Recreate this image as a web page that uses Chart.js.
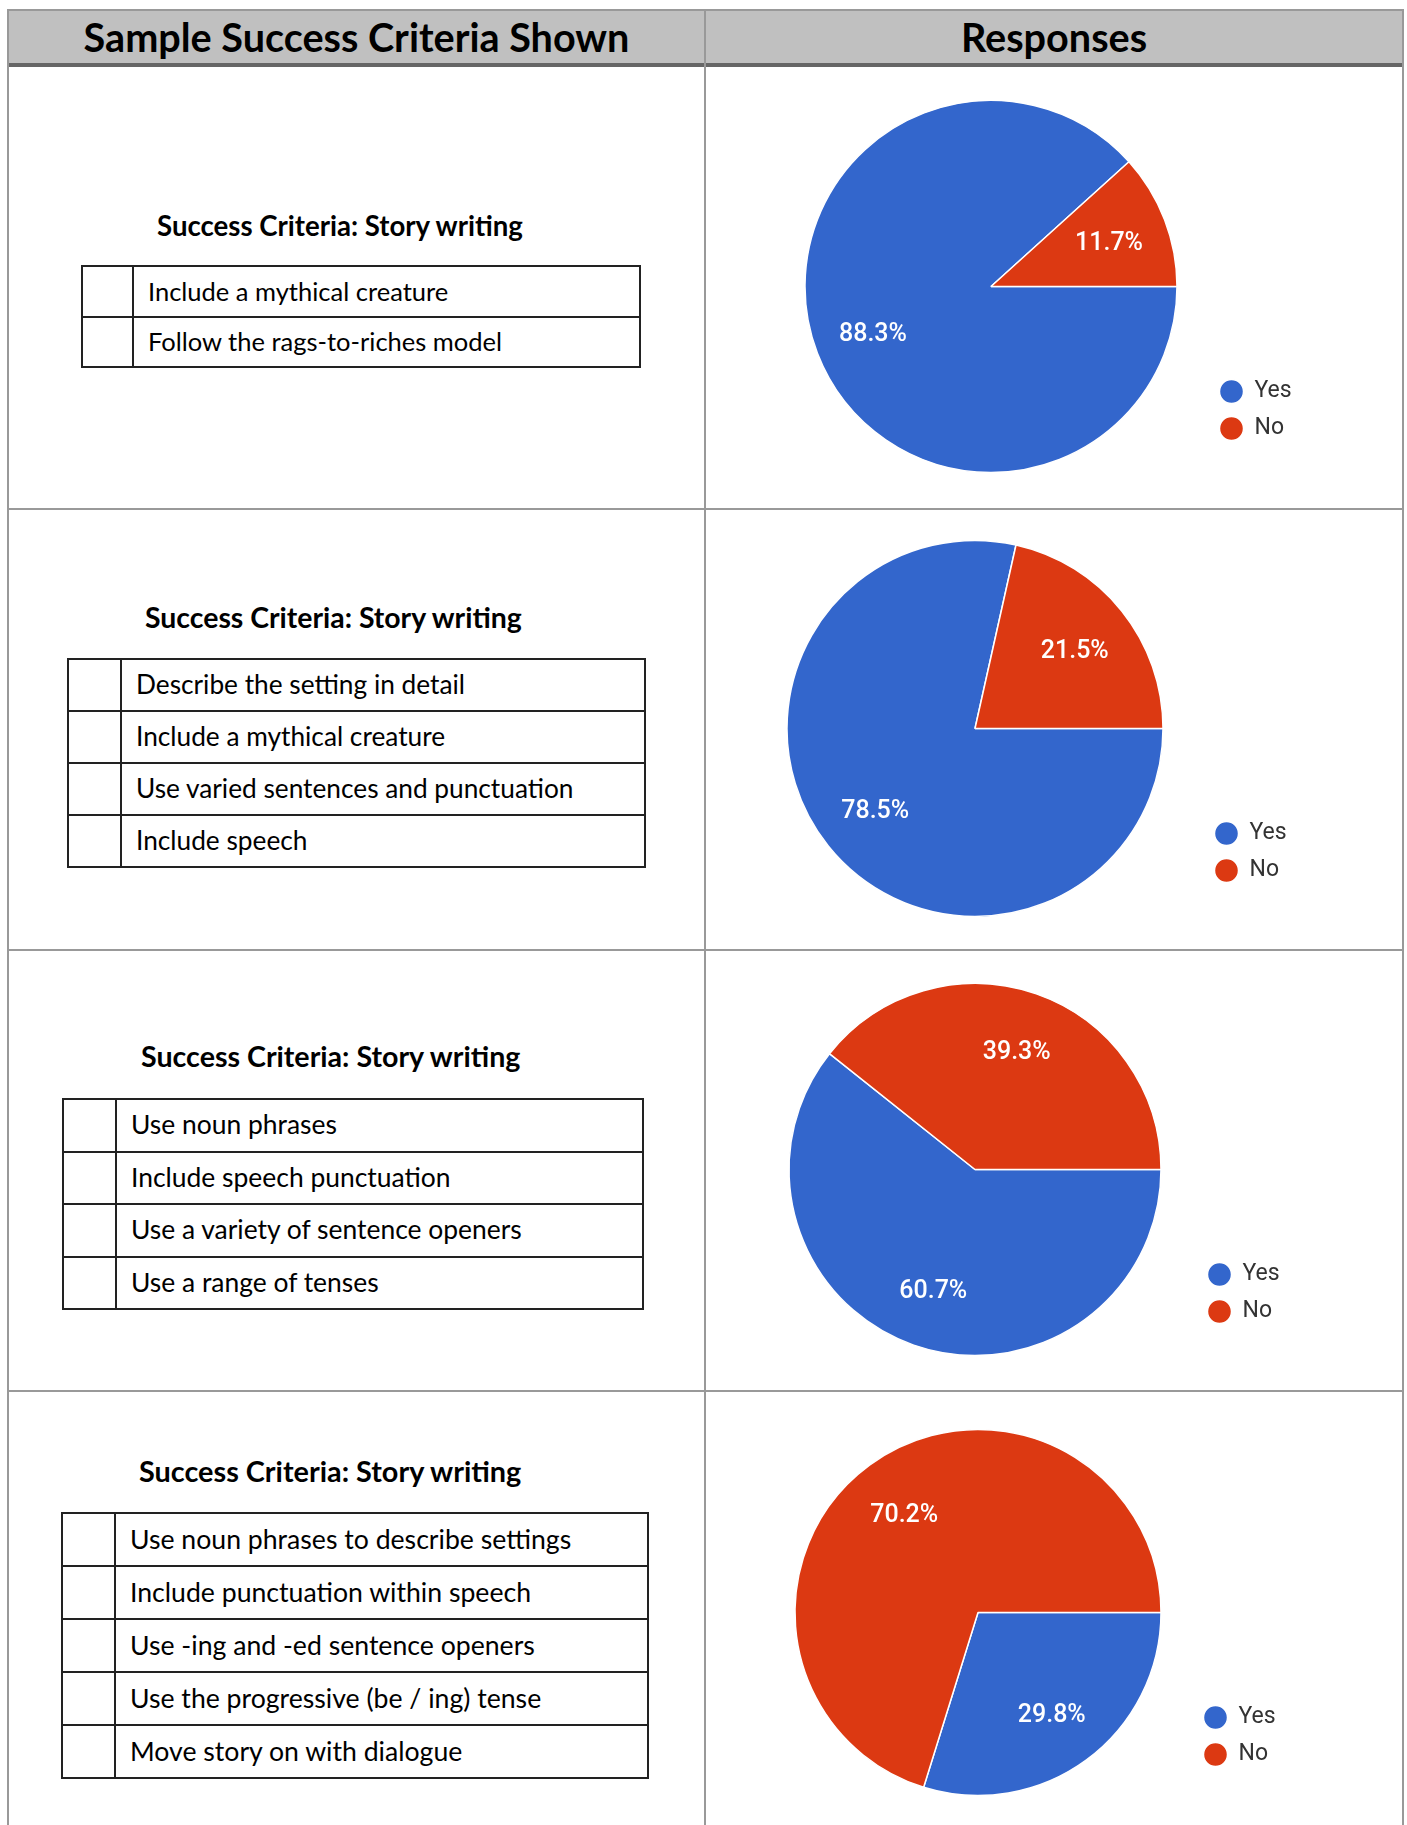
<!DOCTYPE html>
<html lang="en">
<head>
<meta charset="utf-8">
<title>Sample Success Criteria Shown</title>
<script src="https://cdn.jsdelivr.net/npm/chart.js@4.4.1/dist/chart.umd.min.js"></script>
<style>
  html, body { margin: 0; padding: 0; background: #fff; }
  #page { position: relative; width: 1407px; height: 1825px; overflow: hidden; font-family: Lato, "Open Sans", sans-serif; color: #000; }
  .rule { position: absolute; background: #999; }
  .head { position: absolute; top: 11px; height: 52px; background: #c0c0c0; display: flex; align-items: center; justify-content: center; font-weight: 700; font-size: 39.6px; line-height: 1.2; }
  .title { position: absolute; font-weight: 700; line-height: 1.2; white-space: nowrap; }
  .crit { position: absolute; box-sizing: border-box; border: 2px solid #222; }
  .crit .hline { position: absolute; left: 0; right: 0; height: 2px; background: #222; }
  .crit .vline { position: absolute; top: 0; bottom: 0; width: 2px; background: #222; }
  .crit .item { position: absolute; right: 0; display: flex; align-items: center; line-height: 1.2; white-space: nowrap; }
  canvas.pie { position: absolute; }
</style>
</head>
<body>
<div id="page">
  <div class="head" style="left:9px;width:695px;">Sample Success Criteria Shown</div>
  <div class="head" style="left:706px;width:696px;">Responses</div>
  <div class="rule" style="left:7px;top:9px;width:1397px;height:2px;"></div>
  <div class="rule" style="left:7px;top:63px;width:1397px;height:4px;background:#666;"></div>
  <div class="rule" style="left:7px;top:9px;width:2px;height:1816px;"></div>
  <div class="rule" style="left:704px;top:9px;width:2px;height:1816px;"></div>
  <div class="rule" style="left:1402px;top:9px;width:2px;height:1816px;"></div>
  <div class="rule" style="left:7px;top:508px;width:1397px;height:2px;"></div>
  <div class="rule" style="left:7px;top:949px;width:1397px;height:2px;"></div>
  <div class="rule" style="left:7px;top:1390px;width:1397px;height:2px;"></div>
</div>
<script>
  const answerLabels = ["Yes", "No"];
  const yesPercent = [88.3, 78.5, 60.7, 29.8];
  const noPercent = [11.7, 21.5, 39.3, 70.2];
  const sliceColors = ["#3366cc", "#dc3912"];

  const criteriaTitle = "Success Criteria: Story writing";
  const criteriaSets = [
    ["Include a mythical creature", "Follow the rags-to-riches model"],
    ["Describe the setting in detail", "Include a mythical creature", "Use varied sentences and punctuation", "Include speech"],
    ["Use noun phrases", "Include speech punctuation", "Use a variety of sentence openers", "Use a range of tenses"],
    ["Use noun phrases to describe settings", "Include punctuation within speech", "Use -ing and -ed sentence openers",
      "Use the progressive (be / ing) tense", "Move story on with dialogue"],
  ];

  // where each left-hand block sits (page pixels); the pasted tables differ slightly in scale
  const blockSpots = [
    { titleX: 157, titleMid: 226, left: 81, top: 265, width: 560, rowH: 50.5, boxW: 51, scale: 1 },
    { titleX: 145, titleMid: 618, left: 67, top: 658, width: 579, rowH: 52, boxW: 53, scale: 1.03 },
    { titleX: 141, titleMid: 1057, left: 62, top: 1098, width: 582, rowH: 52.5, boxW: 53, scale: 1.037 },
    { titleX: 139, titleMid: 1472, left: 61, top: 1512, width: 588, rowH: 53, boxW: 53, scale: 1.045 },
  ];

  // pie centre, radius and how far right the legend dots sit
  const pieSpots = [
    { cx: 991, cy: 286, r: 186, legendDx: 240 },
    { cx: 975, cy: 728, r: 188, legendDx: 251 },
    { cx: 975, cy: 1169, r: 186, legendDx: 244 },
    { cx: 977.5, cy: 1612, r: 183, legendDx: 237 },
  ];

  const page = document.getElementById("page");

  function el(cls, style, text) {
    const node = document.createElement("div");
    node.className = cls;
    Object.assign(node.style, style);
    if (text) node.textContent = text;
    return node;
  }

  criteriaSets.forEach((items, i) => {
    const spot = blockSpots[i];
    const titleSize = 27.6 * spot.scale;
    page.appendChild(el("title", {
      left: `${spot.titleX}px`, top: `${spot.titleMid - titleSize * 0.627}px`, fontSize: `${titleSize}px`,
    }, criteriaTitle));

    const box = el("crit", {
      left: `${spot.left}px`, top: `${spot.top}px`,
      width: `${spot.width}px`, height: `${spot.rowH * items.length + 2}px`,
    });
    box.appendChild(el("vline", { left: `${spot.boxW - 2}px` }));
    items.forEach((text, k) => {
      if (k > 0) box.appendChild(el("hline", { top: `${spot.rowH * k - 2}px` }));
      box.appendChild(el("item", {
        left: `${spot.boxW + 14}px`, top: `${spot.rowH * k - 1}px`, height: `${spot.rowH}px`,
        fontSize: `${25.5 * spot.scale}px`,
      }, text));
    });
    page.appendChild(box);
  });

  const sliceLabels = {
    id: "sliceLabels",
    afterDatasetsDraw(chart) {
      const { ctx } = chart;
      const meta = chart.getDatasetMeta(0);
      const values = chart.data.datasets[0].data;
      ctx.save();
      ctx.font = '500 25px Roboto, "Liberation Sans", sans-serif';
      ctx.fillStyle = "#fff";
      ctx.textAlign = "center";
      ctx.textBaseline = "middle";
      meta.data.forEach((arc, k) => {
        const { x, y, startAngle, endAngle, outerRadius } =
          arc.getProps(["x", "y", "startAngle", "endAngle", "outerRadius"], true);
        const mid = (startAngle + endAngle) / 2;
        const dist = outerRadius * 0.68;
        ctx.fillText(`${values[k].toFixed(1)}%`, x + Math.cos(mid) * dist, y + Math.sin(mid) * dist + 3);
      });
      ctx.restore();
    },
  };

  pieSpots.forEach((spot, i) => {
    const half = Math.round(spot.legendDx - 25.5);
    const canvas = document.createElement("canvas");
    canvas.className = "pie";
    canvas.width = 2 * half + 100;
    canvas.height = 385;
    canvas.style.left = `${Math.round(spot.cx - half)}px`;
    canvas.style.top = `${Math.round(spot.cy) - 192}px`;
    page.appendChild(canvas);

    new Chart(canvas, {
      type: "pie",
      data: {
        labels: answerLabels,
        datasets: [{
          data: [yesPercent[i], noPercent[i]],
          backgroundColor: sliceColors,
          borderColor: "#fff",
          borderWidth: 1.5,
        }],
      },
      options: {
        responsive: false,
        animation: false,
        rotation: 90,
        radius: spot.r,
        layout: { padding: { top: 25, bottom: 25, left: 0, right: 10 } },
        plugins: {
          tooltip: { enabled: false },
          legend: {
            position: "right",
            align: "end",
            maxWidth: 90,
            labels: {
              usePointStyle: true,
              boxHeight: 17,
              padding: 14,
              color: "#333",
              font: { family: "Roboto, 'Liberation Sans', sans-serif", size: 23 },
            },
          },
        },
      },
      plugins: [sliceLabels],
    });
  });
</script>
</body>
</html>
